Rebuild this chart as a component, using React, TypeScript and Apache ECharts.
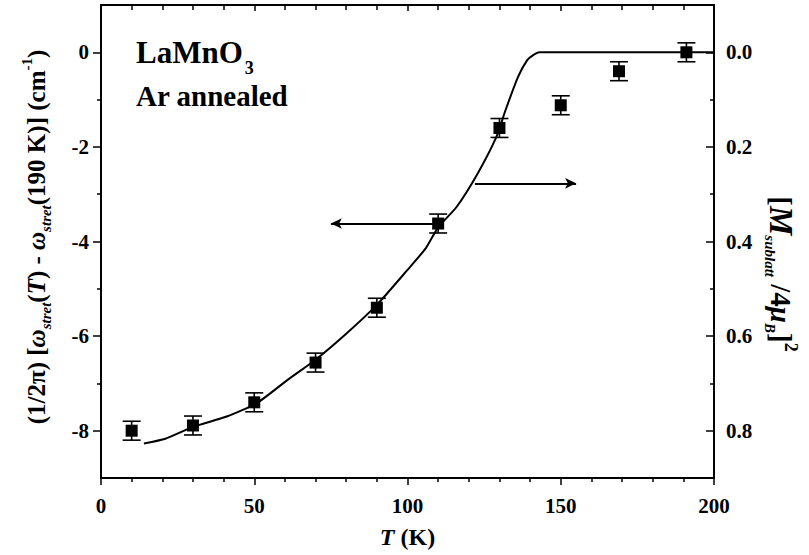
import React, { useEffect, useRef } from 'react';
import * as echarts from 'echarts';

// Measured phonon shift (left axis, cm^-1) with error bars
const temperatures = [10, 30, 50, 70, 90, 110, 130, 150, 169, 191];
const deltaOmega = [-8.0, -7.89, -7.4, -6.56, -5.4, -3.62, -1.6, -1.12, -0.4, 0.0];
const deltaOmegaError = [0.2, 0.2, 0.2, 0.2, 0.2, 0.2, 0.2, 0.2, 0.2, 0.2];

// Sublattice magnetization squared (right axis, inverted)
const curveT = [14, 21, 30, 41, 51, 61, 70, 80, 90, 100, 106, 110, 116, 123, 129, 132, 136, 139, 141, 143, 200];
const curveM = [0.827, 0.817, 0.792, 0.77, 0.741, 0.692, 0.65, 0.595, 0.534, 0.46, 0.414, 0.37, 0.327, 0.255, 0.179, 0.122, 0.053, 0.017, 0.006, 0.0, 0.0];

// Axis ticks
const xTickLabels = [0, 50, 100, 150, 200];
const leftTickLabels = [-8, -6, -4, -2, 0];
const leftMinorTicks = [-7, -5, -3, -1];
const rightTickLabels = [0, 0.2, 0.4, 0.6, 0.8];
const rightMinorTicks = [0.1, 0.3, 0.5, 0.7];

// Annotation arrows (data units)
const leftArrow = [[110, -3.62], [75, -3.62]];
const rightArrow = [[122, 0.277], [155, 0.277]];

const FONT = 'Liberation Serif';

export default function App() {
  const ref = useRef<HTMLDivElement>(null);
  useEffect(() => {
    if (!ref.current) return;
    const chart = echarts.init(ref.current, undefined, { renderer: 'svg' });
    const pts = temperatures.map((t, i) => [t, deltaOmega[i], deltaOmegaError[i]]);
    const curve = curveT.map((t, i) => [t, curveM[i]]);
    const lbl = { fontFamily: FONT, fontWeight: 'bold' as const, fontSize: 21, color: '#000' };
    const lineStyle = { color: '#000', width: 2 };
    const tickStyle = { color: '#000', width: 1.5 };
    const option: any = {
      animation: false,
      backgroundColor: '#fff',
      grid: { left: 101, right: 95, top: 5, bottom: 77, containLabel: false, outerBoundsMode: 'none' },
      xAxis: [
        {
          type: 'value', position: 'bottom', min: 0, max: 200, interval: 50,
          axisLine: { show: true, onZero: false, lineStyle },
          axisTick: { show: true, inside: false, length: 7, lineStyle: tickStyle },
          minorTick: { show: true, splitNumber: 5, length: 4, lineStyle: tickStyle },
          splitLine: { show: false },
          axisLabel: { ...lbl, margin: 17, customValues: xTickLabels },
          name: '{i|T} (K)', nameLocation: 'middle', nameGap: 47,
          nameTextStyle: {
            ...lbl, fontSize: 24,
            rich: { i: { fontFamily: FONT, fontWeight: 'bold', fontStyle: 'italic', fontSize: 24, color: '#000' } },
          },
        },
        {
          type: 'value', position: 'top', min: 0, max: 200, interval: 50,
          axisLine: { show: true, onZero: false, lineStyle },
          axisTick: { show: true, inside: true, length: 6, lineStyle: tickStyle },
          minorTick: { show: true, splitNumber: 5, length: 5, lineStyle: tickStyle },
          splitLine: { show: false },
          axisLabel: { show: false },
        },
      ],
      yAxis: [
        {
          type: 'value', position: 'left', min: -9, max: 1,
          axisLine: { show: true, onZero: false, lineStyle },
          axisTick: { show: true, inside: false, length: 8, customValues: leftTickLabels, lineStyle: tickStyle },
          splitLine: { show: false },
          axisLabel: { ...lbl, margin: 12, customValues: leftTickLabels },
        },
        {
          type: 'value', position: 'right', min: -0.1, max: 0.9, inverse: true,
          axisLine: { show: true, onZero: false, lineStyle },
          axisTick: { show: true, inside: true, length: 8, customValues: rightTickLabels, lineStyle: tickStyle },
          splitLine: { show: false },
          axisLabel: { ...lbl, margin: 12, customValues: rightTickLabels, formatter: (v: number) => v.toFixed(1) },
        },
        {
          type: 'value', position: 'left', min: -9, max: 1,
          axisLine: { show: false, onZero: false },
          axisTick: { show: true, inside: false, length: 4, customValues: leftMinorTicks, lineStyle: tickStyle },
          splitLine: { show: false },
          axisLabel: { show: false },
        },
        {
          type: 'value', position: 'right', min: -0.1, max: 0.9, inverse: true,
          axisLine: { show: false, onZero: false },
          axisTick: { show: true, inside: true, length: 4, customValues: rightMinorTicks, lineStyle: tickStyle },
          splitLine: { show: false },
          axisLabel: { show: false },
        },
      ],
      graphic: [
        {
          type: 'text', left: 136, top: 37,
          style: {
            text: '{b|LaMnO}{s|3}',
            rich: {
              b: { fontFamily: FONT, fontWeight: 'bold', fontSize: 31, lineHeight: 40, verticalAlign: 'top', fill: '#000' },
              s: { fontFamily: FONT, fontWeight: 'bold', fontSize: 18, lineHeight: 18, verticalAlign: 'bottom', padding: [0, 0, 0, 2], fill: '#000' },
            },
          },
        },
        {
          type: 'text', left: 136, top: 81,
          style: { text: 'Ar annealed', fontFamily: FONT, fontWeight: 'bold', fontSize: 29, fill: '#000' },
        },
        {
          type: 'text', x: 36, y: 237, rotation: Math.PI / 2,
          style: {
            text: '{n|(1/2π) [}{i|ω}{s|stret}{n|(}{i|T}{n|) - }{i|ω}{s|stret}{n|(190 K)] (cm}{p|-1}{n|)}',
            align: 'center', verticalAlign: 'middle',
            rich: {
              n: { fontFamily: FONT, fontWeight: 'bold', fontSize: 25, lineHeight: 34, fill: '#000' },
              i: { fontFamily: FONT, fontWeight: 'bold', fontStyle: 'italic', fontSize: 25, lineHeight: 34, fill: '#000' },
              s: { fontFamily: FONT, fontWeight: 'bold', fontStyle: 'italic', fontSize: 15, lineHeight: 15, verticalAlign: 'bottom', fill: '#000' },
              p: { fontFamily: FONT, fontWeight: 'bold', fontSize: 15, lineHeight: 15, verticalAlign: 'top', fill: '#000' },
            },
          },
        },
        {
          type: 'text', x: 781, y: 274, rotation: -Math.PI / 2,
          style: {
            text: '{n|[}{m|M}{s|sublatt}{n| /4}{i|μ}{s|B}{n|]}{p|2}',
            align: 'center', verticalAlign: 'middle',
            rich: {
              n: { fontFamily: FONT, fontWeight: 'bold', fontSize: 29, lineHeight: 38, fill: '#000' },
              m: { fontFamily: FONT, fontWeight: 'bold', fontStyle: 'italic', fontSize: 33, lineHeight: 38, fill: '#000' },
              i: { fontFamily: FONT, fontWeight: 'bold', fontStyle: 'italic', fontSize: 29, lineHeight: 38, fill: '#000' },
              s: { fontFamily: FONT, fontWeight: 'bold', fontStyle: 'italic', fontSize: 15, lineHeight: 15, verticalAlign: 'bottom', fill: '#000' },
              p: { fontFamily: FONT, fontWeight: 'bold', fontSize: 18, lineHeight: 18, verticalAlign: 'top', fill: '#000' },
            },
          },
        },
      ],
      series: [
        {
          type: 'line', xAxisIndex: 0, yAxisIndex: 1, data: curve, showSymbol: false, symbol: 'none',
          lineStyle: { color: '#000', width: 2 }, smooth: 0.2, z: 2,
          markLine: {
            silent: true, symbol: ['none', 'arrow'], symbolSize: [8, 11],
            lineStyle: { color: '#000', width: 1.8, type: 'solid' }, label: { show: false },
            data: [[{ coord: rightArrow[0] }, { coord: rightArrow[1] }]],
          },
        },
        {
          type: 'custom', xAxisIndex: 0, yAxisIndex: 0, data: pts, z: 3,
          renderItem: (params: any, api: any) => {
            const x = api.value(0), y = api.value(1), e = api.value(2);
            const top = api.coord([x, y + e]);
            const bot = api.coord([x, y - e]);
            const hw = 9;
            const style = { stroke: '#000', lineWidth: 1.6 };
            return {
              type: 'group',
              children: [
                { type: 'line', shape: { x1: top[0], y1: top[1], x2: bot[0], y2: bot[1] }, style },
                { type: 'line', shape: { x1: top[0] - hw, y1: top[1], x2: top[0] + hw, y2: top[1] }, style },
                { type: 'line', shape: { x1: bot[0] - hw, y1: bot[1], x2: bot[0] + hw, y2: bot[1] }, style },
              ],
            };
          },
        },
        {
          type: 'scatter', xAxisIndex: 0, yAxisIndex: 0, data: pts.map(p => [p[0], p[1]]),
          symbol: 'rect', symbolSize: 12, itemStyle: { color: '#000', opacity: 1 }, z: 4,
          markLine: {
            silent: true, symbol: ['none', 'arrow'], symbolSize: [8, 11],
            lineStyle: { color: '#000', width: 1.8, type: 'solid' }, label: { show: false },
            data: [[{ coord: leftArrow[0] }, { coord: leftArrow[1] }]],
          },
        },
      ],
    };
    chart.setOption(option);
    return () => chart.dispose();
  }, []);
  return <div ref={ref} style={{ width: 809, height: 555, position: 'absolute', left: 0, top: 0 }} />;
}
